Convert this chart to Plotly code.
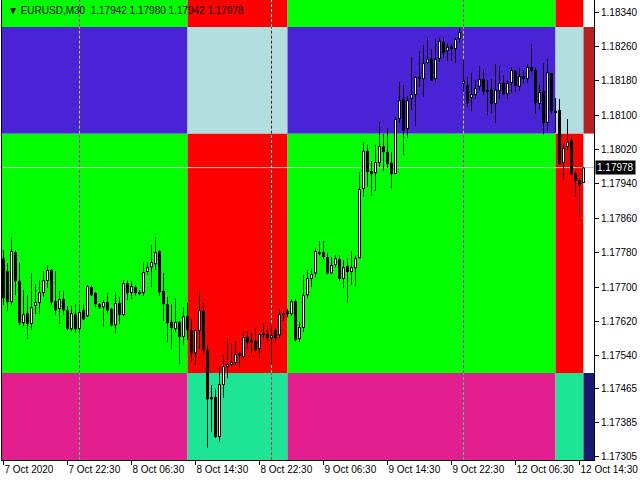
import plotly.graph_objects as go

symbol = "EURUSD,M30"
time_labels = ["7 Oct 2020", "7 Oct 22:30", "8 Oct 06:30", "8 Oct 14:30", "8 Oct 22:30",
               "9 Oct 06:30", "9 Oct 14:30", "9 Oct 22:30", "12 Oct 06:30", "12 Oct 14:30"]
time_label_bars = [0, 16, 32, 48, 64, 80, 96, 112, 128, 144]
day_separator_bars = [19, 67, 115]

open_ = [1.17767, 1.17737, 1.17665, 1.17781, 1.17714, 1.17616, 1.17639, 1.17614, 1.17656, 1.17663,
         1.17686, 1.17714, 1.17740, 1.17667, 1.17649, 1.17672, 1.17646, 1.17602, 1.17637, 1.17602,
         1.17646, 1.17632, 1.17700, 1.17686, 1.17660, 1.17653, 1.17665, 1.17649, 1.17611, 1.17663,
         1.17635, 1.17709, 1.17686, 1.17700, 1.17688, 1.17686, 1.17735, 1.17746, 1.17753, 1.17784,
         1.17691, 1.17660, 1.17619, 1.17602, 1.17619, 1.17584, 1.17632, 1.17600, 1.17546, 1.17598,
         1.17644, 1.17553, 1.17444, 1.17444, 1.17351, 1.17472, 1.17514, 1.17519, 1.17523, 1.17546,
         1.17537, 1.17584, 1.17577, 1.17574, 1.17556, 1.17593, 1.17591, 1.17581, 1.17600, 1.17588,
         1.17639, 1.17644, 1.17637, 1.17667, 1.17579, 1.17605, 1.17681, 1.17719, 1.17732, 1.17781,
         1.17781, 1.17770, 1.17732, 1.17751, 1.17765, 1.17719, 1.17749, 1.17735, 1.17744, 1.17767,
         1.17928, 1.18017, 1.17970, 1.17965, 1.17989, 1.18028, 1.18014, 1.17989, 1.17963, 1.18091,
         1.18138, 1.18068, 1.18138, 1.18147, 1.18189, 1.18184, 1.18221, 1.18231, 1.18184, 1.18231,
         1.18270, 1.18249, 1.18261, 1.18254, 1.18277, 1.18173, 1.18170, 1.18140, 1.18147, 1.18166,
         1.18184, 1.18159, 1.18159, 1.18126, 1.18156, 1.18175, 1.18149, 1.18175, 1.18203, 1.18166,
         1.18191, 1.18184, 1.18212, 1.18205, 1.18126, 1.18156, 1.18082, 1.18198, 1.18110, 1.18112,
         1.17989, 1.18026, 1.18042, 1.17965, 1.17949, 1.17942]
high = [1.17786, 1.17756, 1.17816, 1.17786, 1.17756, 1.17693, 1.17681, 1.17732, 1.17707, 1.17716,
        1.17737, 1.17751, 1.17742, 1.17737, 1.17691, 1.17691, 1.17656, 1.17656, 1.17660, 1.17660,
        1.17660, 1.17705, 1.17702, 1.17688, 1.17663, 1.17670, 1.17686, 1.17651, 1.17688, 1.17677,
        1.17716, 1.17716, 1.17714, 1.17705, 1.17693, 1.17758, 1.17758, 1.17798, 1.17816, 1.17786,
        1.17732, 1.17677, 1.17660, 1.17674, 1.17621, 1.17653, 1.17663, 1.17625, 1.17602, 1.17688,
        1.17663, 1.17563, 1.17472, 1.17463, 1.17516, 1.17542, 1.17579, 1.17570, 1.17574, 1.17549,
        1.17598, 1.17598, 1.17593, 1.17605, 1.17593, 1.17616, 1.17611, 1.17611, 1.17605, 1.17649,
        1.17644, 1.17649, 1.17672, 1.17672, 1.17619, 1.17728, 1.17740, 1.17744, 1.17788, 1.17807,
        1.17807, 1.17779, 1.17770, 1.17774, 1.17774, 1.17763, 1.17767, 1.17784, 1.17774, 1.17968,
        1.18038, 1.18031, 1.17993, 1.18031, 1.18084, 1.18056, 1.18070, 1.18014, 1.18096, 1.18177,
        1.18170, 1.18145, 1.18235, 1.18191, 1.18249, 1.18263, 1.18280, 1.18254, 1.18277, 1.18280,
        1.18280, 1.18266, 1.18266, 1.18280, 1.18305, 1.18228, 1.18189, 1.18198, 1.18182, 1.18214,
        1.18205, 1.18182, 1.18184, 1.18219, 1.18214, 1.18193, 1.18182, 1.18212, 1.18205, 1.18210,
        1.18205, 1.18219, 1.18266, 1.18210, 1.18170, 1.18221, 1.18231, 1.18198, 1.18140, 1.18138,
        1.18033, 1.18091, 1.18049, 1.17968, 1.17951, 1.17980]
low = [1.17658, 1.17644, 1.17658, 1.17681, 1.17611, 1.17609, 1.17579, 1.17600, 1.17637, 1.17637,
       1.17677, 1.17698, 1.17658, 1.17635, 1.17614, 1.17635, 1.17600, 1.17598, 1.17593, 1.17591,
       1.17623, 1.17630, 1.17679, 1.17653, 1.17649, 1.17609, 1.17637, 1.17609, 1.17593, 1.17614,
       1.17632, 1.17670, 1.17672, 1.17679, 1.17681, 1.17679, 1.17728, 1.17700, 1.17740, 1.17679,
       1.17621, 1.17572, 1.17556, 1.17595, 1.17521, 1.17567, 1.17577, 1.17526, 1.17518, 1.17556,
       1.17542, 1.17326, 1.17363, 1.17349, 1.17340, 1.17442, 1.17488, 1.17516, 1.17519, 1.17512,
       1.17533, 1.17556, 1.17546, 1.17551, 1.17535, 1.17581, 1.17567, 1.17521, 1.17570, 1.17581,
       1.17621, 1.17630, 1.17632, 1.17574, 1.17572, 1.17595, 1.17674, 1.17700, 1.17723, 1.17774,
       1.17765, 1.17730, 1.17730, 1.17746, 1.17714, 1.17698, 1.17665, 1.17705, 1.17702, 1.17767,
       1.17910, 1.17933, 1.17912, 1.17924, 1.17979, 1.17970, 1.17977, 1.17930, 1.17963, 1.18082,
       1.18007, 1.18047, 1.18112, 1.18075, 1.18166, 1.18142, 1.18219, 1.18180, 1.18177, 1.18224,
       1.18233, 1.18226, 1.18226, 1.18221, 1.18268, 1.18154, 1.18119, 1.18110, 1.18138, 1.18156,
       1.18147, 1.18100, 1.18105, 1.18082, 1.18138, 1.18147, 1.18138, 1.18152, 1.18154, 1.18156,
       1.18175, 1.18175, 1.18200, 1.18103, 1.18114, 1.18056, 1.18063, 1.18103, 1.18059, 1.17984,
       1.17949, 1.18019, 1.17961, 1.17910, 1.17863, 1.17942]
close = [1.17674, 1.17665, 1.17784, 1.17714, 1.17616, 1.17637, 1.17614, 1.17653, 1.17665, 1.17688,
         1.17716, 1.17740, 1.17665, 1.17646, 1.17672, 1.17646, 1.17602, 1.17639, 1.17602, 1.17642,
         1.17625, 1.17702, 1.17681, 1.17660, 1.17653, 1.17665, 1.17646, 1.17611, 1.17663, 1.17635,
         1.17709, 1.17686, 1.17702, 1.17686, 1.17684, 1.17735, 1.17746, 1.17758, 1.17781, 1.17688,
         1.17660, 1.17616, 1.17605, 1.17619, 1.17584, 1.17632, 1.17600, 1.17546, 1.17600, 1.17646,
         1.17553, 1.17439, 1.17439, 1.17351, 1.17474, 1.17516, 1.17521, 1.17526, 1.17544, 1.17540,
         1.17584, 1.17570, 1.17572, 1.17553, 1.17591, 1.17588, 1.17581, 1.17588, 1.17581, 1.17637,
         1.17637, 1.17637, 1.17667, 1.17577, 1.17607, 1.17681, 1.17721, 1.17730, 1.17784, 1.17779,
         1.17770, 1.17732, 1.17751, 1.17767, 1.17719, 1.17746, 1.17735, 1.17746, 1.17767, 1.17928,
         1.18017, 1.17968, 1.17963, 1.17991, 1.18028, 1.18014, 1.17986, 1.17963, 1.18091, 1.18135,
         1.18063, 1.18135, 1.18149, 1.18189, 1.18184, 1.18221, 1.18231, 1.18180, 1.18231, 1.18273,
         1.18245, 1.18259, 1.18254, 1.18277, 1.18294, 1.18180, 1.18128, 1.18149, 1.18163, 1.18184,
         1.18154, 1.18154, 1.18126, 1.18159, 1.18175, 1.18149, 1.18175, 1.18205, 1.18168, 1.18191,
         1.18184, 1.18212, 1.18203, 1.18128, 1.18154, 1.18082, 1.18200, 1.18110, 1.18107, 1.17986,
         1.18024, 1.18038, 1.17963, 1.17947, 1.17938, 1.17978]

price_ticks = [1.18340, 1.18260, 1.18180, 1.18100, 1.18020, 1.17940, 1.17860, 1.17780,
               1.17700, 1.17620, 1.17540, 1.17465, 1.17385, 1.17305]

# zone boxes: bar-index boundaries and price levels
zone_bar_edges = [46, 71, 138, 145]
zone_price_edges = [1.18305, 1.18057, 1.17500]
zone_colors = [
    ["#00FF00", "#4A23D6", "#00FF00", "#E31E8F"],
    ["#FF0000", "#B2DEDF", "#FF0000", "#1EE596"],
    ["#00FF00", "#4A23D6", "#00FF00", "#E31E8F"],
    ["#FF0000", "#B2DEDF", "#FF0000", "#1EE596"],
    ["#FFFFFF", "#B22222", "#FFFFFF", "#191970"],
]

X_RANGE = [-0.375, 147.625]
Y_RANGE = [1.172976, 1.18368]
PLOT_H = 460
FONT = "Liberation Sans"
PX = (Y_RANGE[1] - Y_RANGE[0]) / PLOT_H  # one pixel in price units (for body outline inset)


def invert(hexcol):
    h = hexcol.lstrip("#")
    r, g, b = (255 - int(h[i:i + 2], 16) for i in (0, 2, 4))
    return "#%02X%02X%02X" % (r, g, b)


n = len(open_)
xs = list(range(n))

fig = go.Figure()

# zones
col_edges = [X_RANGE[0]] + zone_bar_edges + [X_RANGE[1]]
row_edges = [Y_RANGE[1]] + zone_price_edges + [Y_RANGE[0]]
for ci in range(len(col_edges) - 1):
    for ri in range(len(row_edges) - 1):
        fig.add_shape(type="rect", xref="x", yref="y",
                      x0=col_edges[ci], x1=col_edges[ci + 1],
                      y0=row_edges[ri + 1], y1=row_edges[ri],
                      fillcolor=zone_colors[ci][ri], line=dict(width=0), layer="below")

# day separators (inverted against background)
for sb in day_separator_bars:
    ci = sum(1 for e in zone_bar_edges if sb >= e)
    for ri in range(len(row_edges) - 1):
        fig.add_shape(type="line", xref="x", yref="y", x0=sb, x1=sb,
                      y0=row_edges[ri + 1], y1=row_edges[ri],
                      line=dict(color=invert(zone_colors[ci][ri]), width=1, dash="3px,2px"),
                      layer="below")

# bid line
fig.add_shape(type="line", xref="x", yref="y", x0=X_RANGE[0], x1=X_RANGE[1],
              y0=close[-1], y1=close[-1], line=dict(color="#C0C0C0", width=1), layer="below")

# wicks
wx, wy = [], []
for i in xs:
    wx += [i, i, None]
    wy += [low[i], high[i], None]
fig.add_trace(go.Scatter(x=wx, y=wy, mode="lines", line=dict(color="black", width=1),
                         hoverinfo="skip"))

# bodies: black outer box for every candle
bases = [min(o, c) for o, c in zip(open_, close)]
heights = [max(abs(c - o), PX) for o, c in zip(open_, close)]
fig.add_trace(go.Bar(x=xs, y=heights, base=bases, width=0.75,
                     marker=dict(color="black", line=dict(width=0)), hoverinfo="skip"))

# white interior for bullish candles (1px line inside the black outline)
ix, iy = [], []
for i in xs:
    if close[i] - open_[i] > 2 * PX:
        ix += [i, i, None]
        iy += [open_[i] + PX, close[i] - PX, None]
fig.add_trace(go.Scatter(x=ix, y=iy, mode="lines", line=dict(color="white", width=1),
                         hoverinfo="skip"))

title = "▼ %s&nbsp;&nbsp;%.5f %.5f %.5f %.5f" % (symbol, open_[-1], high[-1], low[-1], close[-1])
fig.add_annotation(xref="paper", yref="paper", x=0, y=1, xanchor="left", yanchor="top",
                   xshift=4, yshift=-3, text=title, showarrow=False,
                   font=dict(family=FONT, size=10, color="black"))
fig.add_annotation(xref="paper", yref="y", x=1, y=close[-1], xanchor="left", yanchor="middle",
                   xshift=1, text="%.5f" % close[-1], showarrow=False, bgcolor="black",
                   borderpad=1, font=dict(family=FONT, size=10, color="white"))

fig.update_layout(
    width=640, height=480,
    margin=dict(l=2, r=46, t=0, b=20, autoexpand=False),
    plot_bgcolor="white", paper_bgcolor="white",
    showlegend=False, barmode="overlay",
    xaxis=dict(range=X_RANGE, showgrid=False, zeroline=False, showline=True,
               linecolor="black", linewidth=1, mirror=True, ticks="outside", ticklen=4,
               tickcolor="black", tickvals=time_label_bars, ticktext=time_labels,
               ticklabelposition="outside right", tickangle=0, automargin=False,
               tickfont=dict(family=FONT, size=10, color="black")),
    yaxis=dict(range=Y_RANGE, side="right", showgrid=False, zeroline=False, showline=True,
               linecolor="black", linewidth=1, mirror=True, ticks="outside", ticklen=4,
               tickcolor="black", tickvals=price_ticks, automargin=False,
               ticktext=["%.5f" % v for v in price_ticks],
               tickfont=dict(family=FONT, size=10, color="black")),
)

fig.write_html("out.html", config={"displayModeBar": False},
               post_script="document.body.style.margin='0px';")
